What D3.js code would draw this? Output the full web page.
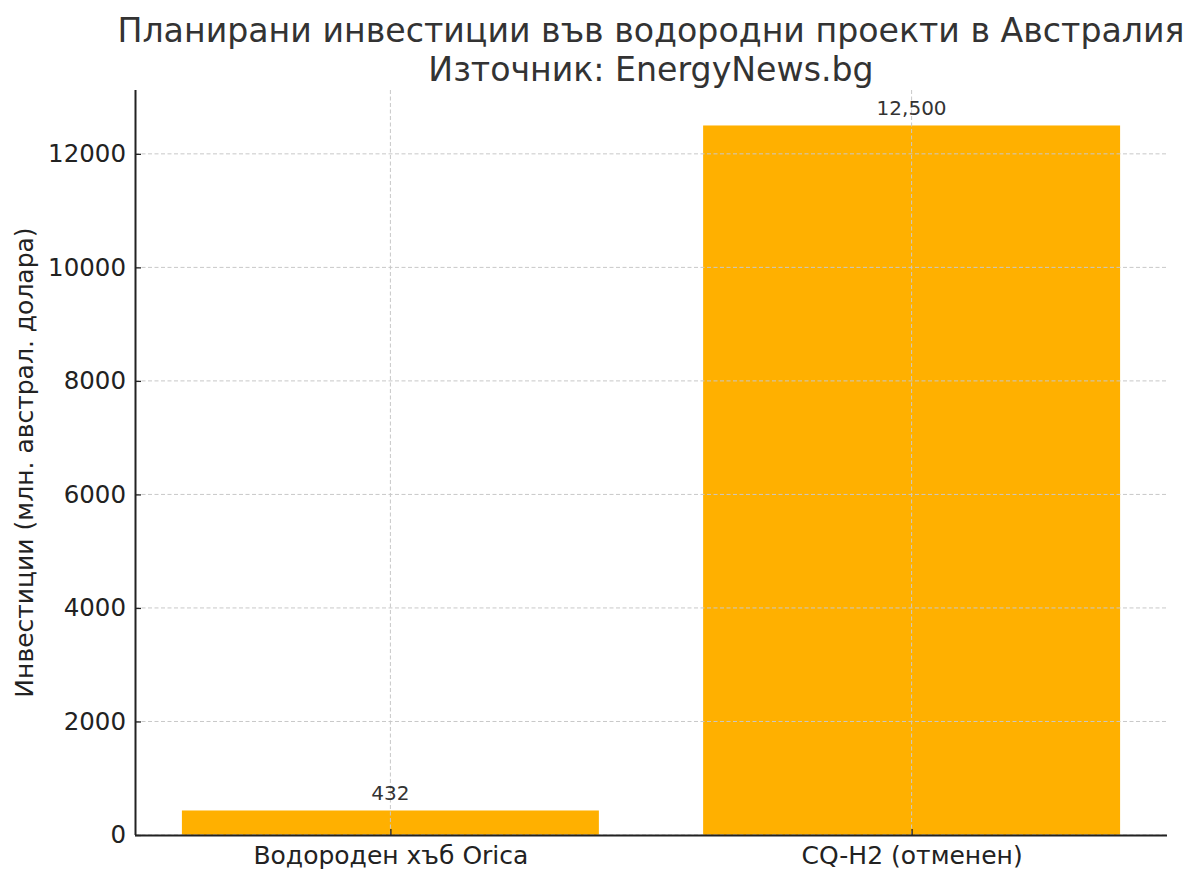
<!DOCTYPE html>
<html><head><meta charset="utf-8">
<script src="https://cdn.jsdelivr.net/npm/d3@7/dist/d3.min.js"></script>
<style>body{margin:0;background:#fff}svg{display:block;font-family:"DejaVu Sans",sans-serif}</style>
</head><body>
<svg id="c" width="1200" height="883"></svg>
<script>
const categories = ["Водороден хъб Orica", "CQ-H2 (отменен)"];
const values = [432, 12500];
const valueLabels = ["432", "12,500"];
const yTicks = [0, 2000, 4000, 6000, 8000, 10000, 12000];
const titleLines = ["Планирани инвестиции във водородни проекти в Австралия", "Източник: EnergyNews.bg"];
const yLabel = "Инвестиции (млн. австрал. долара)";

const svg = d3.select("#c");
const L = 135, R = 1167, T = 90, B = 835;
const x = d3.scaleLinear().domain([-0.49, 1.49]).range([L, R]);
const y = d3.scaleLinear().domain([0, 13125]).range([B, T]);
const bw = 0.8;

// bars
svg.append("g").selectAll("rect").data(values).join("rect")
  .attr("x", (d,i) => x(i - bw/2)).attr("width", (d,i) => x(i + bw/2) - x(i - bw/2))
  .attr("y", d => y(d)).attr("height", d => y(0) - y(d))
  .attr("fill", "#FFB000");

// grid on top
const g = svg.append("g").attr("stroke", "#c8c8c8").attr("stroke-width", 1).attr("stroke-dasharray", "4,2.5");
g.selectAll(".gy").data(yTicks).join("line")
  .attr("x1", L).attr("x2", R).attr("y1", d => y(d)).attr("y2", d => y(d));
g.selectAll(".gx").data(categories).join("line")
  .attr("x1", (d,i) => x(i)).attr("x2", (d,i) => x(i)).attr("y1", T).attr("y2", B);

// axes
const yAxis = d3.axisLeft(y).tickValues(yTicks).tickFormat(d3.format("d")).tickSizeInner(-6).tickSizeOuter(0).tickPadding(9);
const ya = svg.append("g").attr("transform", `translate(${L},0)`).call(yAxis);
const xAxis = d3.axisBottom(x).tickValues([0,1]).tickFormat((d) => categories[d]).tickSizeInner(-6).tickSizeOuter(0).tickPadding(11);
const xa = svg.append("g").attr("transform", `translate(0,${B})`).call(xAxis);
[ya, xa].forEach(a => {
  a.select(".domain").attr("stroke", "#222").attr("stroke-width", 2);
  a.selectAll(".tick line").attr("stroke", "#222").attr("stroke-width", 1.3);
  a.selectAll(".tick text").attr("font-size", 24.5).attr("fill", "#222").attr("font-family", "DejaVu Sans");
});
xa.selectAll(".tick text").attr("font-size", 25);
xa.select(".domain").attr("d", `M${L},0.5H${R}`);
ya.select(".domain").attr("d", `M0.5,${B}V${T}`);

// value labels
svg.append("g").selectAll("text").data(values).join("text")
  .attr("x", (d,i) => x(i)).attr("y", d => y(d) - 10)
  .attr("text-anchor", "middle").attr("font-size", 20).attr("fill", "#333")
  .text((d,i) => valueLabels[i]);

// title
svg.append("g").selectAll("text").data(titleLines).join("text")
  .attr("x", (L + R)/2).attr("y", (d,i) => 42 + i*39)
  .attr("text-anchor", "middle").attr("font-size", 33.2).attr("fill", "#333")
  .text(d => d);

// y label
svg.append("text").attr("transform", `translate(33,${(T+B)/2}) rotate(-90)`)
  .attr("text-anchor", "middle").attr("font-size", 25).attr("fill", "#222").text(yLabel);
</script>
</body></html>
